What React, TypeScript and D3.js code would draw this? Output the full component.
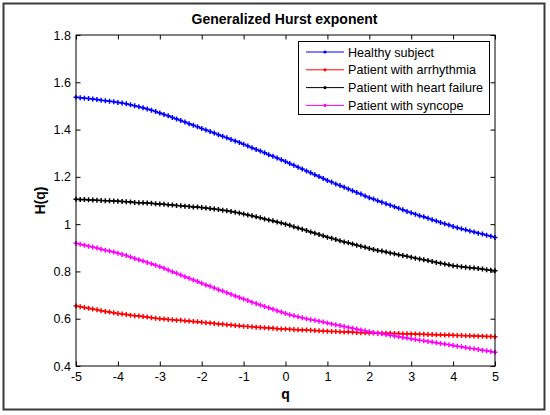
import { useEffect, useRef } from 'react';
import * as d3 from 'd3';

// q runs from -5 to 5 in steps of 0.1
const qValues: number[] = d3.range(-50, 51).map(i => i / 10);

const healthy = [
  1.537, 1.535, 1.533, 1.531, 1.529, 1.527, 1.524, 1.522, 1.520, 1.518,
  1.515, 1.512, 1.509, 1.505, 1.501, 1.497, 1.492, 1.487, 1.482, 1.476,
  1.470, 1.464, 1.458, 1.451, 1.445, 1.438, 1.432, 1.425, 1.418, 1.412,
  1.405, 1.398, 1.392, 1.385, 1.378, 1.372, 1.365, 1.358, 1.352, 1.345,
  1.338, 1.331, 1.323, 1.316, 1.309, 1.302, 1.294, 1.287, 1.280, 1.272,
  1.265, 1.257, 1.249, 1.241, 1.233, 1.225, 1.217, 1.209, 1.201, 1.193,
  1.185, 1.178, 1.170, 1.163, 1.156, 1.149, 1.141, 1.134, 1.127, 1.119,
  1.112, 1.106, 1.099, 1.093, 1.086, 1.080, 1.074, 1.067, 1.061, 1.054,
  1.048, 1.042, 1.036, 1.031, 1.025, 1.019, 1.013, 1.007, 1.002, 0.996,
  0.990, 0.985, 0.980, 0.976, 0.971, 0.967, 0.962, 0.958, 0.953, 0.949,
  0.944,
];

const arrhythmia = [
  0.654, 0.651, 0.647, 0.644, 0.641, 0.638, 0.634, 0.631, 0.628, 0.625,
  0.622, 0.620, 0.618, 0.615, 0.613, 0.611, 0.609, 0.607, 0.604, 0.602,
  0.600, 0.599, 0.597, 0.596, 0.594, 0.593, 0.591, 0.590, 0.588, 0.587,
  0.585, 0.583, 0.582, 0.580, 0.578, 0.577, 0.575, 0.573, 0.571, 0.570,
  0.568, 0.567, 0.566, 0.564, 0.563, 0.562, 0.561, 0.560, 0.558, 0.557,
  0.556, 0.555, 0.554, 0.553, 0.552, 0.552, 0.551, 0.550, 0.549, 0.548,
  0.547, 0.546, 0.546, 0.545, 0.544, 0.544, 0.543, 0.542, 0.541, 0.541,
  0.540, 0.540, 0.539, 0.539, 0.538, 0.538, 0.537, 0.537, 0.536, 0.536,
  0.535, 0.535, 0.534, 0.534, 0.533, 0.533, 0.532, 0.532, 0.531, 0.531,
  0.530, 0.529, 0.529, 0.528, 0.528, 0.527, 0.526, 0.526, 0.525, 0.525,
  0.524,
];

const heartFailure = [
  1.105, 1.104, 1.104, 1.103, 1.102, 1.101, 1.100, 1.099, 1.099, 1.098,
  1.097, 1.096, 1.095, 1.094, 1.092, 1.091, 1.090, 1.089, 1.088, 1.086,
  1.085, 1.084, 1.082, 1.081, 1.079, 1.078, 1.076, 1.075, 1.073, 1.072,
  1.070, 1.068, 1.066, 1.064, 1.062, 1.059, 1.057, 1.054, 1.050, 1.047,
  1.043, 1.039, 1.035, 1.031, 1.027, 1.022, 1.018, 1.014, 1.009, 1.005,
  1.000, 0.995, 0.989, 0.984, 0.978, 0.973, 0.967, 0.962, 0.956, 0.951,
  0.945, 0.940, 0.935, 0.930, 0.925, 0.921, 0.916, 0.911, 0.906, 0.902,
  0.897, 0.893, 0.889, 0.886, 0.882, 0.878, 0.875, 0.871, 0.867, 0.864,
  0.860, 0.856, 0.853, 0.849, 0.846, 0.842, 0.838, 0.835, 0.831, 0.828,
  0.824, 0.822, 0.820, 0.818, 0.816, 0.814, 0.812, 0.810, 0.807, 0.805,
  0.803,
];

const syncope = [
  0.919, 0.915, 0.911, 0.907, 0.903, 0.899, 0.894, 0.890, 0.886, 0.882,
  0.877, 0.872, 0.867, 0.861, 0.855, 0.849, 0.844, 0.838, 0.832, 0.826,
  0.820, 0.813, 0.806, 0.799, 0.792, 0.785, 0.778, 0.771, 0.764, 0.757,
  0.750, 0.743, 0.737, 0.730, 0.723, 0.717, 0.710, 0.703, 0.696, 0.690,
  0.683, 0.677, 0.670, 0.664, 0.658, 0.652, 0.646, 0.640, 0.634, 0.628,
  0.622, 0.617, 0.613, 0.608, 0.604, 0.600, 0.596, 0.593, 0.589, 0.586,
  0.582, 0.578, 0.575, 0.571, 0.567, 0.563, 0.560, 0.556, 0.552, 0.549,
  0.545, 0.542, 0.539, 0.536, 0.533, 0.530, 0.527, 0.524, 0.521, 0.518,
  0.515, 0.512, 0.509, 0.507, 0.504, 0.501, 0.498, 0.495, 0.493, 0.490,
  0.487, 0.484, 0.481, 0.478, 0.475, 0.473, 0.470, 0.467, 0.464, 0.461,
  0.458,
];

const seriesNames = [
  'Healthy subject',
  'Patient with arrhythmia',
  'Patient with heart failure',
  'Patient with syncope',
];
const seriesColors = ['#0000ff', '#ff0000', '#000000', '#ff00ff'];
const seriesValues = [healthy, arrhythmia, heartFailure, syncope];

const xTicks = [-5, -4, -3, -2, -1, 0, 1, 2, 3, 4, 5];
const yTicks = [0.4, 0.6, 0.8, 1, 1.2, 1.4, 1.6, 1.8];

const FONT = '"Liberation Sans", Arial, Helvetica, sans-serif';

export default function App() {
  const svgRef = useRef<SVGSVGElement>(null);
  const width = 550;
  const height = 415;
  const margin = { top: 35, right: 55, bottom: 49, left: 76 };

  useEffect(() => {
    if (!svgRef.current) return;
    const svg = d3.select(svgRef.current);
    svg.selectAll('*').remove();

    const innerWidth = width - margin.left - margin.right;
    const innerHeight = height - margin.top - margin.bottom;

    const x = d3.scaleLinear().domain([-5, 5]).range([0, innerWidth]);
    const y = d3.scaleLinear().domain([0.4, 1.8]).range([innerHeight, 0]);

    // outer figure frame
    svg.append('rect')
      .attr('x', 3.5).attr('y', 3.5)
      .attr('width', 541).attr('height', 406)
      .attr('fill', '#fff')
      .attr('stroke', '#3a3a3a')
      .attr('stroke-width', 2);

    const g = svg.append('g')
      .attr('transform', `translate(${margin.left},${margin.top})`);

    const fmt = (d: d3.NumberValue) => String(+(+d).toFixed(1));

    // axes, ticks pointing inward
    g.append('g')
      .attr('transform', `translate(0,${innerHeight})`)
      .call(d3.axisBottom(x).tickValues(xTicks).tickSize(-4.5).tickSizeOuter(0).tickPadding(6).tickFormat(fmt))
      .call(a => a.select('.domain').remove());
    g.append('g')
      .call(d3.axisLeft(y).tickValues(yTicks).tickSize(-4.5).tickSizeOuter(0).tickPadding(5).tickFormat(fmt))
      .call(a => a.select('.domain').remove());
    g.append('g')
      .call(d3.axisTop(x).tickValues(xTicks).tickSize(-4.5).tickSizeOuter(0).tickFormat(() => ''))
      .call(a => a.select('.domain').remove());
    g.append('g')
      .attr('transform', `translate(${innerWidth},0)`)
      .call(d3.axisRight(y).tickValues(yTicks).tickSize(-4.5).tickSizeOuter(0).tickFormat(() => ''))
      .call(a => a.select('.domain').remove());

    g.selectAll('.tick text')
      .attr('font-family', FONT)
      .attr('font-size', '12.5px')
      .attr('fill', '#000');
    g.selectAll('.tick line').attr('stroke', '#000');

    // series
    const line = d3.line<number>()
      .x((_, i) => x(qValues[i]))
      .y(d => y(d));

    const plus = 2.5;
    seriesValues.forEach((vals, si) => {
      const color = seriesColors[si];
      g.append('path')
        .datum(vals)
        .attr('fill', 'none')
        .attr('stroke', color)
        .attr('stroke-width', 1.2)
        .attr('d', line);
      g.append('g')
        .selectAll('path')
        .data(vals)
        .enter().append('path')
        .attr('stroke', color)
        .attr('stroke-width', 1.5)
        .attr('fill', 'none')
        .attr('d', (d, i) => {
          const cx = x(qValues[i]);
          const cy = y(d);
          return `M${cx - plus},${cy}H${cx + plus}M${cx},${cy - plus}V${cy + plus}`;
        });
    });

    // plot box
    g.append('rect')
      .attr('width', innerWidth)
      .attr('height', innerHeight)
      .attr('fill', 'none')
      .attr('stroke', '#000')
      .attr('stroke-width', 1);

    // legend
    const legend = svg.append('g').attr('transform', 'translate(298,41)');
    legend.append('rect')
      .attr('x', 0.5).attr('y', 0.5)
      .attr('width', 191).attr('height', 73)
      .attr('fill', '#fff')
      .attr('stroke', '#000')
      .attr('stroke-width', 1);
    seriesNames.forEach((name, i) => {
      const cy = 11 + i * 17.8;
      legend.append('line')
        .attr('x1', 8).attr('x2', 46)
        .attr('y1', cy).attr('y2', cy)
        .attr('stroke', seriesColors[i])
        .attr('stroke-width', 1);
      legend.append('circle')
        .attr('cx', 27).attr('cy', cy).attr('r', 1.6)
        .attr('fill', seriesColors[i]);
      legend.append('text')
        .attr('x', 50).attr('y', cy + 4.5)
        .attr('font-family', FONT)
        .attr('font-size', '12.6px')
        .attr('fill', '#000')
        .text(name);
    });

    // title and axis labels
    svg.append('text')
      .attr('x', margin.left + innerWidth / 2 - 1).attr('y', 24)
      .attr('text-anchor', 'middle')
      .attr('font-family', FONT)
      .attr('font-size', '14px')
      .attr('font-weight', 'bold')
      .text('Generalized Hurst exponent');
    svg.append('text')
      .attr('x', margin.left + innerWidth / 2).attr('y', 399)
      .attr('text-anchor', 'middle')
      .attr('font-family', FONT)
      .attr('font-size', '14px')
      .attr('font-weight', 'bold')
      .text('q');
    svg.append('text')
      .attr('transform', `translate(45,${margin.top + innerHeight / 2}) rotate(-90)`)
      .attr('text-anchor', 'middle')
      .attr('font-family', FONT)
      .attr('font-size', '14px')
      .attr('font-weight', 'bold')
      .text('H(q)');
  }, []);

  return (
    <div style={{ position: 'absolute', left: 0, top: 0 }}>
      <svg ref={svgRef} width={width} height={height} style={{ display: 'block' }} />
    </div>
  );
}
